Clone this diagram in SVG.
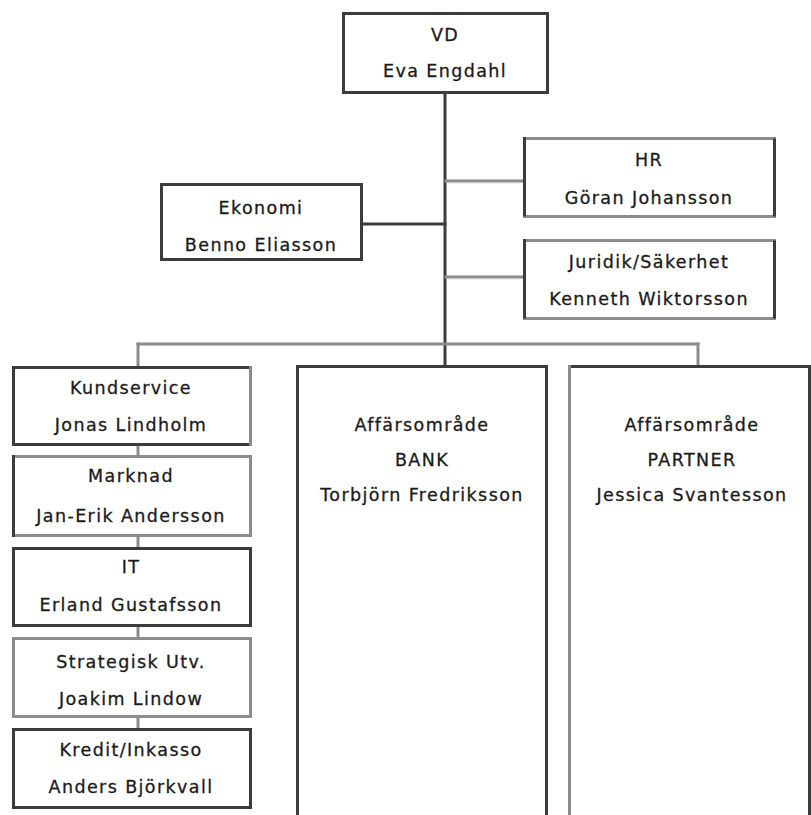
<svg xmlns="http://www.w3.org/2000/svg" width="811" height="815" viewBox="0 0 811 815">
  <style>
    .bg { fill: #ffffff; stroke: none; }
    .dk { stroke: #3c3c3c; stroke-width: 3; fill: none; stroke-linecap: square; }
    .gy { stroke: #8c8c8c; stroke-width: 3; fill: none; stroke-linecap: square; }
    .gyl { stroke: #c6c6c6; stroke-width: 1.2; fill: none; }
    text { font-family: "DejaVu Sans", Verdana, sans-serif; font-size: 17.5px; fill: #1a1a1a; stroke: #1a1a1a; stroke-width: 0.3; text-anchor: middle; letter-spacing: 1.4px; }
  </style>
  <rect width="811" height="815" fill="#ffffff"/>

  <!-- connectors -->
  <g id="connectors">
    <line class="dk" x1="445" y1="94" x2="445" y2="364"/>
    <line class="dk" x1="363" y1="224" x2="445" y2="224"/>
    <line class="gy" x1="446" y1="181" x2="523" y2="181"/>
    <line class="gyl" x1="446" y1="182.6" x2="523" y2="182.6"/>
    <line class="gy" x1="446" y1="277" x2="523" y2="277"/>
    <line class="gyl" x1="446" y1="278.6" x2="523" y2="278.6"/>
    <line class="gy" x1="138" y1="344" x2="698" y2="344"/>
    <line class="gy" x1="138" y1="344" x2="138" y2="366"/>
    <line class="gy" x1="698" y1="344" x2="698" y2="365"/>
    <line class="gy" x1="138" y1="446" x2="138" y2="455"/>
    <line class="gy" x1="138" y1="537" x2="138" y2="547"/>
    <line class="gy" x1="138" y1="627" x2="138" y2="637"/>
    <line class="gy" x1="138" y1="718" x2="138" y2="728"/>
  </g>

  <!-- VD -->
  <g id="vd">
    <rect class="bg" x="342" y="12" width="207" height="82"/>
    <rect class="dk" x="343.5" y="13.5" width="204" height="79"/>
    <text x="445" y="41">VD</text>
    <text x="445" y="77">Eva Engdahl</text>
  </g>

  <!-- Ekonomi -->
  <g id="ekonomi">
    <rect class="bg" x="160" y="183" width="203" height="78"/>
    <rect class="dk" x="161.5" y="184.5" width="200" height="75"/>
    <text x="261" y="214">Ekonomi</text>
    <text x="261" y="251">Benno Eliasson</text>
  </g>

  <!-- HR -->
  <g id="hr">
    <rect class="bg" x="523" y="137" width="253" height="81"/>
    <line class="gy" x1="524.5" y1="138.5" x2="774.5" y2="138.5"/>
    <line class="gy" x1="524.5" y1="216.5" x2="774.5" y2="216.5"/>
    <line class="dk" x1="524.5" y1="138.5" x2="524.5" y2="215"/>
    <line class="dk" x1="774.5" y1="140" x2="774.5" y2="215"/>
    <text x="649" y="166">HR</text>
    <text x="649" y="204">Göran Johansson</text>
  </g>

  <!-- Juridik/Säkerhet -->
  <g id="juridik">
    <rect class="bg" x="523" y="239" width="253" height="81"/>
    <line class="gy" x1="524.5" y1="240.5" x2="774.5" y2="240.5"/>
    <line class="gy" x1="524.5" y1="318.5" x2="774.5" y2="318.5"/>
    <line class="dk" x1="524.5" y1="240.5" x2="524.5" y2="317"/>
    <line class="dk" x1="774.5" y1="242" x2="774.5" y2="317"/>
    <text x="649" y="268">Juridik/Säkerhet</text>
    <text x="649" y="305">Kenneth Wiktorsson</text>
  </g>

  <!-- Kundservice -->
  <g id="kundservice">
    <rect class="bg" x="12" y="366" width="240" height="80"/>
    <line class="dk" x1="13.5" y1="367.5" x2="249" y2="367.5"/>
    <line class="dk" x1="13.5" y1="444.5" x2="249" y2="444.5"/>
    <line class="dk" x1="13.5" y1="367.5" x2="13.5" y2="444.5"/>
    <line class="gy" x1="250.5" y1="367.5" x2="250.5" y2="444.5"/>
    <text x="131" y="394">Kundservice</text>
    <text x="131" y="431">Jonas Lindholm</text>
  </g>

  <!-- Marknad -->
  <g id="marknad">
    <rect class="bg" x="12" y="455" width="240" height="82"/>
    <line class="gy" x1="13.5" y1="456.5" x2="250.5" y2="456.5"/>
    <line class="gy" x1="13.5" y1="535.5" x2="250.5" y2="535.5"/>
    <line class="dk" x1="13.5" y1="456.5" x2="13.5" y2="535.5"/>
    <line class="gy" x1="250.5" y1="456.5" x2="250.5" y2="535.5"/>
    <text x="131" y="482">Marknad</text>
    <text x="131" y="522">Jan-Erik Andersson</text>
  </g>

  <!-- IT -->
  <g id="it">
    <rect class="bg" x="12" y="547" width="240" height="80"/>
    <rect class="dk" x="13.5" y="548.5" width="237" height="77"/>
    <text x="131" y="573">IT</text>
    <text x="131" y="611">Erland Gustafsson</text>
  </g>

  <!-- Strategisk Utv. -->
  <g id="strategisk">
    <rect class="bg" x="12" y="637" width="240" height="81"/>
    <rect class="gy" x="13.5" y="638.5" width="237" height="78"/>
    <text x="131" y="668">Strategisk Utv.</text>
    <text x="131" y="705">Joakim Lindow</text>
  </g>

  <!-- Kredit/Inkasso -->
  <g id="kredit">
    <rect class="bg" x="12" y="728" width="240" height="81"/>
    <rect class="dk" x="13.5" y="729.5" width="237" height="78"/>
    <text x="131" y="756">Kredit/Inkasso</text>
    <text x="131" y="793">Anders Björkvall</text>
  </g>

  <!-- Affärsområde BANK -->
  <g id="bank">
    <rect class="bg" x="296" y="365" width="252" height="450"/>
    <path class="dk" d="M297.5,817 V366.5 H546.5 V817"/>
    <text x="422" y="431">Affärsområde</text>
    <text x="422" y="466">BANK</text>
    <text x="422" y="501">Torbjörn Fredriksson</text>
  </g>

  <!-- Affärsområde PARTNER -->
  <g id="partner">
    <rect class="bg" x="568" y="365" width="243" height="450"/>
    <path class="dk" d="M569.5,366.5 H809.5 V817"/>
    <line class="gy" x1="569.5" y1="366.5" x2="569.5" y2="817"/>
    <text x="692" y="431">Affärsområde</text>
    <text x="692" y="466">PARTNER</text>
    <text x="692" y="501">Jessica Svantesson</text>
  </g>
</svg>
